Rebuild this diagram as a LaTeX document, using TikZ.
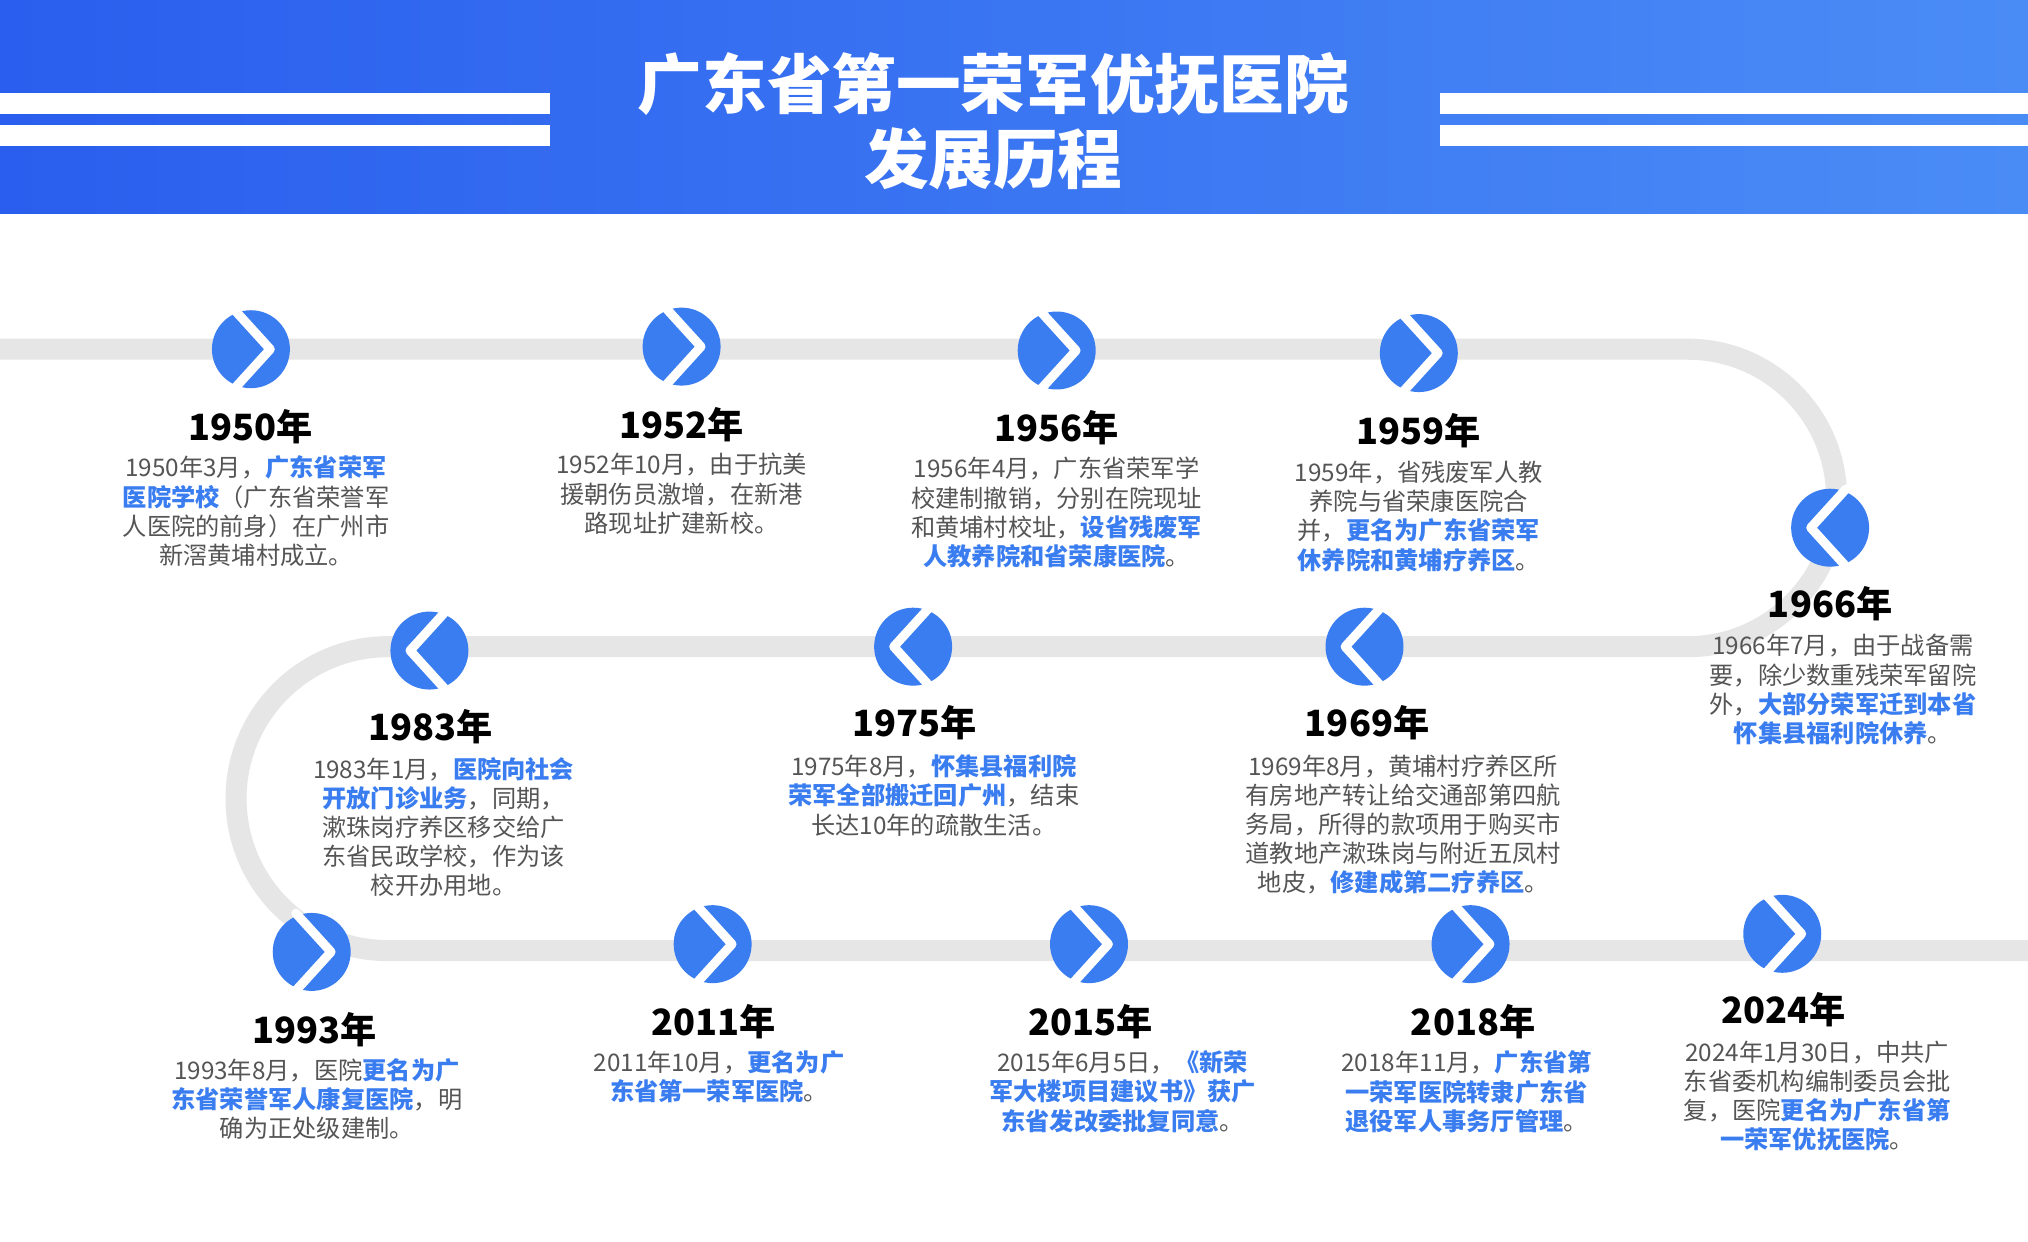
\documentclass[tikz,border=0pt]{standalone}
\usepackage{fontspec}
\setmainfont{Noto Sans CJK SC}
\usetikzlibrary{positioning}
\definecolor{hdleft}{HTML}{2A5EEE}
\definecolor{hdright}{HTML}{4A8CF6}
\definecolor{badge}{HTML}{3A7DF0}
\definecolor{hlblue}{HTML}{3A7DF0}
\definecolor{track}{HTML}{E6E6E6}
\definecolor{desctext}{HTML}{555555}
\newcommand{\hl}[1]{\textcolor{hlblue}{\bfseries #1}}
\tikzset{
  ybadge/.style = {circle, fill=badge, minimum size=0.78cm, inner sep=0pt},
  yearlbl/.style = {font=\fontsize{10.3}{12}\selectfont\bfseries, text=black},
  desc/.style = {anchor=north, align=center, text=desctext,
    font=\fontsize{6.9}{8.3}\selectfont, inner sep=0pt},
  chev/.style = {white, line width=2.6pt, line cap=round, line join=round}
}

\begin{document}
\begin{tikzpicture}[x=0.012934cm,y=-0.012934cm]
  \useasboundingbox[fill=white] (0,0) rectangle (1568,960);
  % header
  \shade[left color=hdleft, right color=hdright] (0,0) rectangle (1568,165);
  \fill[white] (0,72) rectangle (425,88);
  \fill[white] (0,97) rectangle (425,113);
  \fill[white] (1113,72) rectangle (1568,88);
  \fill[white] (1113,97) rectangle (1568,113);
  \node[white,font=\fontsize{18.4}{22}\selectfont\bfseries] (title1) at (768,65) {广东省第一荣军优抚医院};
  \node[white,font=\fontsize{18.4}{22}\selectfont\bfseries] (title2) at (768,123) {发展历程};
  % track
  \draw[track, line width=6pt] (0,270) -- (1305,270)
    arc[start angle=-90, end angle=90, radius=115] -- (300,500)
    arc[start angle=-90, end angle=-270, radius=117.5] -- (1568,735);
  % badges pointing right
  \foreach \n/\X/\Y in {a/194/270, b/527/268, c/817/271, d/1097/273, i/241/736, j/551/730, k/842/730, l/1137/730, m/1378/722} {
    \node[ybadge] (b\n) at (\X,\Y) {};
    \draw[chev] ([xshift=-4.5,yshift=11]b\n.center) -- ([xshift=5.5]b\n.center) -- ([xshift=-4.5,yshift=-11]b\n.center);
  }
  % badges pointing left
  \foreach \n/\X/\Y in {e/1415/408, f/1055/500, g/706/500, h/332/503} {
    \node[ybadge] (b\n) at (\X,\Y) {};
    \draw[chev] ([xshift=4.5,yshift=11]b\n.center) -- ([xshift=-5.5]b\n.center) -- ([xshift=4.5,yshift=-11]b\n.center);
  }
  % years and texts
  \node[yearlbl] (y1950) at (194,330) {1950年};
  \node[desc] (t1950) at (198,352) {1950年3月，\hl{广东省荣军}\\\hl{医院学校}（广东省荣誉军\\人医院的前身）在广州市\\新滘黄埔村成立。};
  \node[yearlbl] (y1952) at (527,328) {1952年};
  \node[desc] (t1952) at (527,350) {1952年10月，由于抗美\\援朝伤员激增，在新港\\路现址扩建新校。};
  \node[yearlbl] (y1956) at (817,331) {1956年};
  \node[desc] (t1956) at (817,353) {1956年4月，广东省荣军学\\校建制撤销，分别在院现址\\和黄埔村校址，\hl{设省残废军}\\\hl{人教养院和省荣康医院}。};
  \node[yearlbl] (y1959) at (1097,333) {1959年};
  \node[desc] (t1959) at (1097,356) {1959年，省残废军人教\\养院与省荣康医院合\\并，\hl{更名为广东省荣军}\\\hl{休养院和黄埔疗养区}。};
  \node[yearlbl] (y1966) at (1415,467) {1966年};
  \node[desc] (t1966) at (1425,490) {1966年7月，由于战备需\\要，除少数重残荣军留院\\外，\hl{大部分荣军迁到本省}\\\hl{怀集县福利院休养}。};
  \node[yearlbl] (y1969) at (1057,559) {1969年};
  \node[desc] (t1969) at (1085,583) {1969年8月，黄埔村疗养区所\\有房地产转让给交通部第四航\\务局，所得的款项用于购买市\\道教地产漱珠岗与附近五凤村\\地皮，\hl{修建成第二疗养区}。};
  \node[yearlbl] (y1975) at (707,559) {1975年};
  \node[desc] (t1975) at (722,583) {1975年8月，\hl{怀集县福利院}\\\hl{荣军全部搬迁回广州}，结束\\长达10年的疏散生活。};
  \node[yearlbl] (y1983) at (333,562) {1983年};
  \node[desc] (t1983) at (343,585) {1983年1月，\hl{医院向社会}\\\hl{开放门诊业务}，同期，\\漱珠岗疗养区移交给广\\东省民政学校，作为该\\校开办用地。};
  \node[yearlbl] (y1993) at (243,796) {1993年};
  \node[desc] (t1993) at (245,818) {1993年8月，医院\hl{更名为广}\\\hl{东省荣誉军人康复医院}，明\\确为正处级建制。};
  \node[yearlbl] (y2011) at (552,790) {2011年};
  \node[desc] (t2011) at (556,812) {2011年10月，\hl{更名为广}\\\hl{东省第一荣军医院}。};
  \node[yearlbl] (y2015) at (843,790) {2015年};
  \node[desc] (t2015) at (868,812) {2015年6月5日，\hl{《新荣}\\\hl{军大楼项目建议书》获广}\\\hl{东省发改委批复同意}。};
  \node[yearlbl] (y2018) at (1139,790) {2018年};
  \node[desc] (t2018) at (1134,812) {2018年11月，\hl{广东省第}\\\hl{一荣军医院转隶广东省}\\\hl{退役军人事务厅管理}。};
  \node[yearlbl] (y2024) at (1379,781) {2024年};
  \node[desc] (t2024) at (1405,804) {2024年1月30日，中共广\\东省委机构编制委员会批\\复，医院\hl{更名为广东省第}\\\hl{一荣军优抚医院}。};
\end{tikzpicture}
\end{document}
